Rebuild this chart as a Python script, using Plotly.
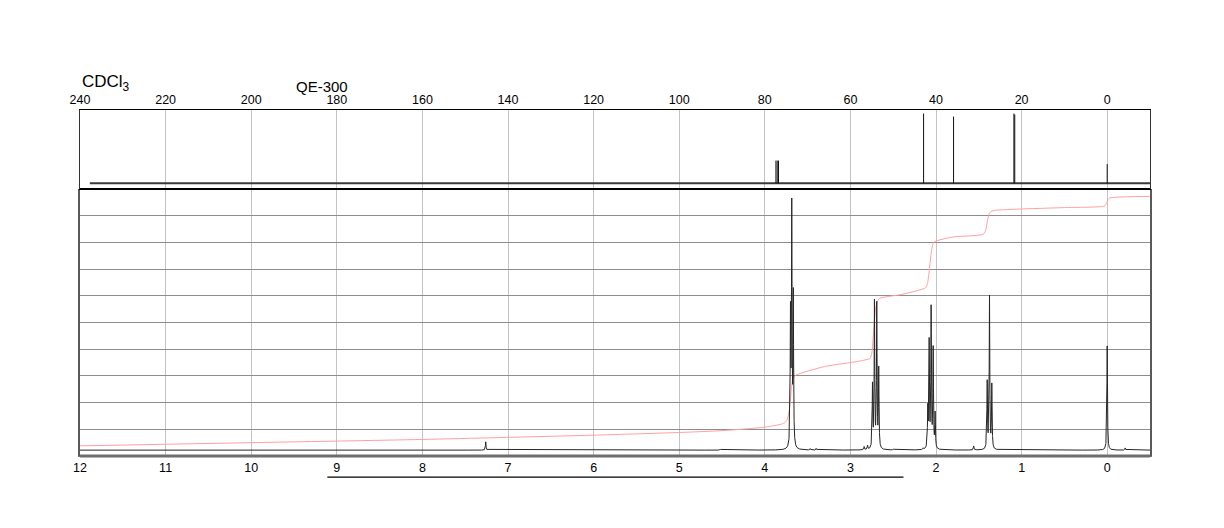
import numpy as np
import plotly.graph_objects as go

# ---------------- data ----------------
# 13C spectrum (top panel): peak positions (ppm) and intensities
c13_ppm = [77.4, 77.1, 76.8, 42.9, 35.9, 21.8, 21.6, 0.0]
c13_int = [22.5, 22.5, 22.5, 69.0, 66.0, 69.0, 68.0, 19.0]
c13_base_range = [237.7, -10.0]

# 1H spectrum (bottom panel): peak positions (ppm) and heights
h1_ppm = [7.26, 4.52, 3.70, 3.685, 3.667, 3.47, 3.40, 2.84, 2.80,
          2.742, 2.719, 2.692, 2.669, 2.50, 2.15, 2.096, 2.080, 2.057,
          2.033, 2.010, 1.56, 1.402, 1.375, 1.348, 0.000, -0.21]
h1_int = [0.31, 0.04, 4.9, 8.85, 5.6, 0.05, 0.06, 0.12, 0.15,
          2.35, 5.45, 5.35, 2.95, 0.03, 0.05, 1.45, 3.95, 5.2,
          3.7, 1.3, 0.15, 2.5, 5.7, 2.38, 3.9, 0.08]
h1_range = [12.0, -0.5]

# integral curve knots (ppm, value)
int_ppm = [12.0, 10.0, 8.0, 6.0, 5.0, 4.5, 4.0, 3.78, 3.74, 3.71, 3.69, 3.67,
           3.64, 3.3, 2.9, 2.77, 2.75, 2.73, 2.71, 2.69, 2.66, 2.4, 2.12,
           2.10, 2.08, 2.06, 2.04, 2.02, 1.8, 1.45, 1.42, 1.40, 1.38, 1.36,
           1.3, 0.5, 0.03, 0.01, -0.01, -0.03, -0.5]
int_val = [0.16, 0.28, 0.40, 0.56, 0.66, 0.73, 0.86, 1.00, 1.13, 1.58, 2.28, 2.68,
           2.80, 3.13, 3.33, 3.44, 3.63, 4.38, 5.18, 5.53, 5.68, 5.83, 6.08,
           6.23, 6.68, 7.28, 7.68, 7.80, 7.98, 8.08, 8.23, 8.58, 8.83, 8.93,
           8.98, 9.08, 9.14, 9.23, 9.38, 9.44, 9.50]

x_ticks_c13 = list(range(240, -1, -20))
x_ticks_h1 = list(range(12, -1, -1))

# ---------------- build traces ----------------
# 1H line shape: Lorentzian sum of the read peaks
hw = 0.004
grid = [np.linspace(h1_range[1], h1_range[0], 6000)]
for p in h1_ppm:
    grid.append(np.linspace(p - 0.12, p + 0.12, 481))
xs = np.unique(np.concatenate(grid + [np.array(h1_ppm)]))
ys = np.zeros_like(xs)
for p, h in zip(h1_ppm, h1_int):
    ys += h * hw ** 2 / ((xs - p) ** 2 + hw ** 2)

# 13C sticks
cx, cy = [], []
for p, h in zip(c13_ppm, c13_int):
    cx += [p, p, None]
    cy += [0, h, None]

fig = go.Figure()

fig.add_trace(go.Scatter(x=c13_base_range, y=[0, 0], mode="lines",
                         line=dict(color="#3a3a3a", width=2),
                         xaxis="x2", yaxis="y2", hoverinfo="skip"))
fig.add_trace(go.Scatter(x=cx, y=cy, mode="lines",
                         line=dict(color="#111111", width=1),
                         xaxis="x2", yaxis="y2", hoverinfo="skip"))

fig.add_trace(go.Scatter(x=int_ppm, y=int_val, mode="lines",
                         line=dict(color="#ffa0a0", width=1, shape="spline", smoothing=0.6),
                         xaxis="x", yaxis="y", hoverinfo="skip"))
fig.add_trace(go.Scatter(x=xs, y=ys, mode="lines",
                         line=dict(color="#262626", width=1),
                         xaxis="x", yaxis="y", hoverinfo="skip"))

# ---------------- layout ----------------
split = 0.772
font_family = "Liberation Sans, Arial, sans-serif"

fig.update_layout(
    width=1224, height=528,
    margin=dict(l=80, r=74, t=110, b=72),
    paper_bgcolor="white", plot_bgcolor="white",
    showlegend=False,
    font=dict(family=font_family, size=12, color="black"),
    xaxis=dict(domain=[0, 1], range=h1_range, anchor="y",
               tickvals=x_ticks_h1, ticktext=[str(v) for v in x_ticks_h1],
               ticks="", showgrid=True, gridcolor="#c4c4c4", gridwidth=1,
               showline=True, linecolor="#6e6e6e", linewidth=1,
               zeroline=False, tickfont=dict(size=12.5)),
    yaxis=dict(domain=[0, split], range=[-0.22, 9.78], anchor="x",
               tick0=-0.22, dtick=1, showticklabels=False, ticks="",
               showgrid=True, gridcolor="#8c8c8c", gridwidth=1,
               showline=True, mirror=True, linecolor="#5a5a5a", linewidth=2,
               zeroline=False),
    xaxis2=dict(domain=[0, 1], range=[240, -10], anchor="y2", side="top",
                tickvals=x_ticks_c13, ticktext=[str(v) for v in x_ticks_c13],
                ticks="", showgrid=True, gridcolor="#c4c4c4", gridwidth=1,
                showline=True, mirror=True, linecolor="black", linewidth=1,
                zeroline=False, tickfont=dict(size=12.5)),
    yaxis2=dict(domain=[split, 1], range=[-5.5, 72.5], anchor="x2",
                showticklabels=False, ticks="", showgrid=False,
                showline=True, mirror=True, linecolor="#333333", linewidth=1,
                zeroline=False),
)

# thick separator between panels
fig.add_shape(type="line", xref="paper", yref="paper", x0=0, x1=1,
              y0=split, y1=split, line=dict(color="black", width=2))
# thick grey bottom axis line
fig.add_shape(type="line", xref="paper", yref="paper", x0=0, x1=1,
              y0=0, y1=0, line=dict(color="#6e6e6e", width=3))
# horizontal bar under the lower axis
fig.add_shape(type="line", xref="x", yref="paper", x0=9.11, x1=2.38,
              y0=-0.061, y1=-0.061, line=dict(color="black", width=1.3))

fig.add_annotation(xref="paper", yref="paper", x=0, y=1.078, xanchor="left",
                   yanchor="middle", showarrow=False,
                   text="CDCl<sub>3</sub>", font=dict(size=17, family=font_family))
fig.add_annotation(xref="paper", yref="paper", x=0.226, y=1.069, xanchor="center",
                   yanchor="middle", showarrow=False,
                   text="QE-300", font=dict(size=15, family=font_family))

fig.write_html("out.html")
